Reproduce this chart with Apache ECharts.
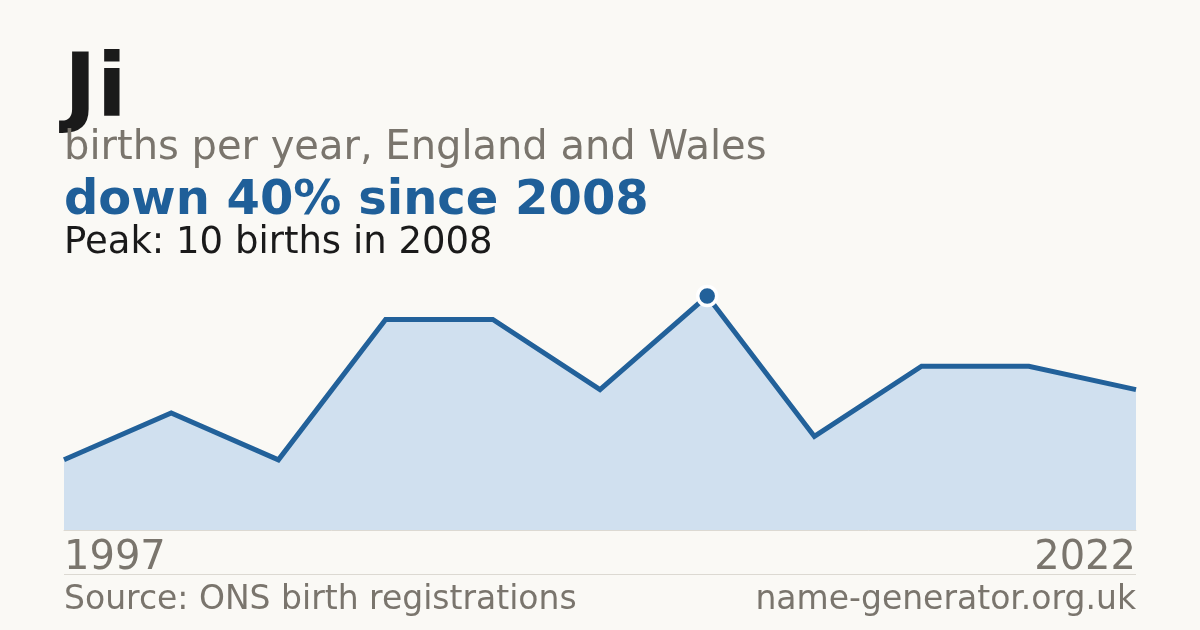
<!DOCTYPE html>
<html>
<head>
<meta charset="utf-8">
<script src="https://cdn.jsdelivr.net/npm/echarts@6/dist/echarts.min.js"></script>
<style>
html,body{margin:0;padding:0;background:#faf9f5;}
#c{width:1200px;height:630px;}
</style>
</head>
<body>
<div id="c"></div>
<script>
const years = ['1997','2000','2003','2005','2006','2007','2008','2010','2013','2017','2022'];
const births = [3,5,3,9,9,6,10,4,7,7,6];
const peakIndex = 6;
const nameTitle = 'Ji';
const subtitle = 'births per year, England and Wales';
const headline = 'down 40% since 2008';
const peakText = 'Peak: 10 births in 2008';
const sourceText = 'Source: ONS birth registrations';
const siteText = 'name-generator.org.uk';

const FONT = 'DejaVu Sans';
const chart = echarts.init(document.getElementById('c'), null, {renderer:'canvas'});
const last = years.length - 1;
chart.setOption({
  backgroundColor:'#faf9f5',
  animation:false,
  grid:{left:64,right:64,top:296,bottom:100},
  xAxis:{
    type:'category', data:years, boundaryGap:false,
    axisLine:{show:true,lineStyle:{color:'#dcd9d2',width:1}},
    axisTick:{show:false},
    splitLine:{show:false},
    axisLabel:{
      interval:function(i){return i===0||i===last;},
      showMinLabel:true, showMaxLabel:true,
      alignMinLabel:'left', alignMaxLabel:'right',
      color:'#7a756d', fontFamily:FONT, fontSize:40, margin:9, lineHeight:40
    }
  },
  yAxis:{type:'value',min:0,max:10,show:false,splitLine:{show:false}},
  series:[
    {type:'line',data:births,symbol:'none',
     lineStyle:{color:'#22619a',width:5,join:'miter'},
     areaStyle:{color:'#d0e0ef',opacity:1}},
    {type:'scatter',data:births.map((v,i)=>i===peakIndex?v:'-'),
     symbol:'circle',symbolSize:19,
     itemStyle:{color:'#22619a',borderColor:'#ffffff',borderWidth:3.5,opacity:1},z:5}
  ],
  graphic:[
    {type:'text',left:64,top:48,style:{text:nameTitle,font:'bold 88px "DejaVu Sans"',fill:'#1a1a1a'}},
    {type:'text',x:64,y:148.5,style:{text:subtitle,font:'40px "DejaVu Sans"',fill:'#7a756d',verticalAlign:'middle'}},
    {type:'text',x:64,y:201.5,style:{text:headline,font:'bold 48px "DejaVu Sans"',fill:'#1f5f99',verticalAlign:'middle'}},
    {type:'text',x:64,y:243.5,style:{text:peakText,font:'37px "DejaVu Sans"',fill:'#1a1a1a',verticalAlign:'middle'}},
    {type:'line',shape:{x1:64,y1:574.5,x2:1136,y2:574.5},style:{stroke:'#dcd9d2',lineWidth:1}},
    {type:'text',x:64,y:600.5,style:{text:sourceText,font:'33px "DejaVu Sans"',fill:'#7a756d',verticalAlign:'middle'}},
    {type:'text',x:1136,y:600.5,style:{text:siteText,font:'33px "DejaVu Sans"',fill:'#7a756d',verticalAlign:'middle',align:'right'}}
  ]
});
</script>
</body>
</html>
